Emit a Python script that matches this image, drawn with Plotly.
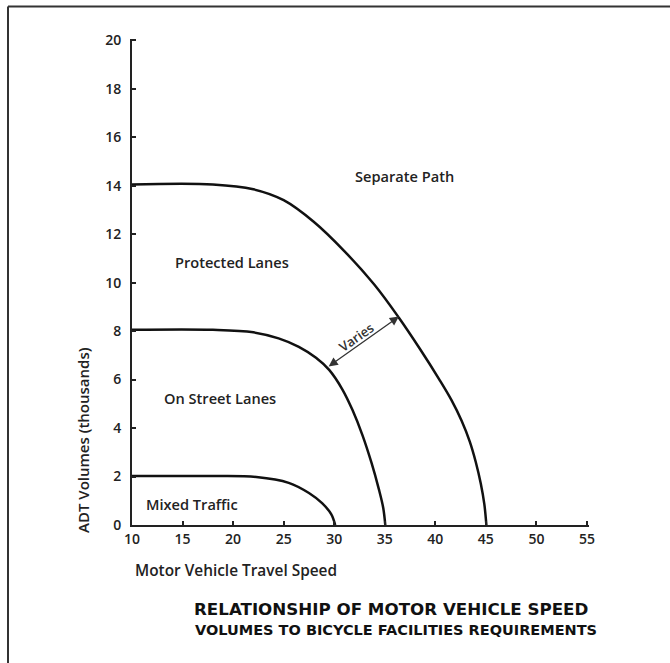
import plotly.graph_objects as go

# ---- data ----
speed_ticks = [10, 15, 20, 25, 30, 35, 40, 45, 50, 55]
adt_ticks = [0, 2, 4, 6, 8, 10, 12, 14, 16, 18, 20]

mixed_speed = [10, 18, 22.3, 25.5, 27.5, 28.8, 29.7, 30.1]
mixed_adt = [2.02, 2.02, 1.98, 1.74, 1.32, 0.9, 0.45, 0]

street_speed = [10, 18, 22, 24.5, 26.5, 28.2, 29.5, 30.8, 31.8, 32.8, 33.7, 34.4, 34.85, 35.05]
street_adt = [8.05, 8.05, 7.95, 7.7, 7.35, 6.9, 6.4, 5.6, 4.75, 3.7, 2.55, 1.5, 0.7, 0]

protected_speed = [10, 18, 22, 25, 28, 31, 34, 36.4, 38.5, 40.4, 41.6, 42.6, 43.4, 44.0, 44.5, 44.85, 45.05]
protected_adt = [14.05, 14.05, 13.85, 13.4, 12.5, 11.3, 9.9, 8.55, 7.25, 6.0, 5.15, 4.3, 3.45, 2.6, 1.7, 0.85, 0]

region_labels = ["Separate Path", "Protected Lanes", "On Street Lanes", "Mixed Traffic"]
region_x = [37.0, 19.9, 18.7, 15.9]
region_y = [14.4, 10.85, 5.25, 0.85]

varies_from = (29.3, 6.5)
varies_to = (36.4, 8.6)

FONT = "Open Sans"
TXT = "#222222"

fig = go.Figure()
for xs, ys in [(mixed_speed, mixed_adt), (street_speed, street_adt), (protected_speed, protected_adt)]:
    fig.add_trace(go.Scatter(x=xs, y=ys, mode="lines",
                             line=dict(color="#111111", width=2.5, shape="spline", smoothing=1.0),
                             showlegend=False, hoverinfo="skip"))

for t, x, y in zip(region_labels, region_x, region_y):
    fig.add_annotation(x=x, y=y, text=t, showarrow=False,
                       font=dict(family=FONT, size=14.6, color=TXT, weight=600))

# double-headed "Varies" arrow
fig.add_annotation(x=varies_to[0], y=varies_to[1], ax=varies_from[0], ay=varies_from[1],
                   xref="x", yref="y", axref="x", ayref="y", text="",
                   showarrow=True, arrowside="end+start", arrowhead=2, startarrowhead=2,
                   arrowsize=1.4, startarrowsize=1.4, arrowwidth=1.3, arrowcolor="#333333")
fig.add_annotation(x=32.2, y=7.75, text="Varies", showarrow=False, textangle=-35,
                   font=dict(family=FONT, size=13, color="#333333", weight=600))

# layout geometry (page pixels)
W, L, R = 670, 132, 81
T, B, H = 39, 138, 663
pw = W - L - R
ph = H - T - B

def px(x):
    return (x - L) / pw

def py(y):
    return (H - B - y) / ph

fig.add_annotation(xref="paper", yref="paper", x=px(133), y=py(570), xanchor="left", yanchor="middle",
                   text="Motor Vehicle Travel Speed", showarrow=False,
                   font=dict(family=FONT, size=15.4, color=TXT, weight=600))
fig.add_annotation(xref="paper", yref="paper", x=px(83), y=py(440), textangle=-90,
                   xanchor="center", yanchor="middle",
                   text="ADT Volumes (thousands)", showarrow=False,
                   font=dict(family=FONT, size=15, color=TXT, weight=600))
fig.add_annotation(xref="paper", yref="paper", x=px(391), y=py(609), xanchor="center", yanchor="middle",
                   text="RELATIONSHIP OF MOTOR VEHICLE SPEED", showarrow=False,
                   font=dict(family="DejaVu Sans", size=16.7, color="#111111", weight="bold"))
fig.add_annotation(xref="paper", yref="paper", x=px(396), y=py(630), xanchor="center", yanchor="middle",
                   text="VOLUMES TO BICYCLE FACILITIES REQUIREMENTS", showarrow=False,
                   font=dict(family="DejaVu Sans", size=14.5, color="#111111", weight="bold"))

# frame (top and left edges)
fig.add_shape(type="line", xref="paper", yref="paper", x0=px(8), x1=px(672), y0=py(6.5), y1=py(6.5),
              line=dict(color="#333333", width=2))
fig.add_shape(type="line", xref="paper", yref="paper", x0=px(8), x1=px(8), y0=py(6.5), y1=py(665),
              line=dict(color="#333333", width=2))

axis_common = dict(showgrid=False, zeroline=False, showline=True, linecolor="#222222", linewidth=2,
                   ticks="inside", ticklen=4, tickwidth=1.5, tickcolor="#222222",
                   tickfont=dict(family=FONT, size=14, color=TXT, weight=600))
fig.update_xaxes(range=[10, 55.2], tickvals=speed_ticks, ticktext=[str(v) for v in speed_ticks],
                 **axis_common)
fig.update_yaxes(range=[0, 20.05], tickvals=adt_ticks, ticktext=[str(v) for v in adt_ticks],
                 ticklabelstandoff=6, **axis_common)

fig.update_layout(width=W, height=H, margin=dict(l=L, r=R, t=T, b=B),
                  plot_bgcolor="white", paper_bgcolor="white")

# remove the page's default 8px body margin so the figure sits at the window origin
fig.write_html("out.html", config={"displayModeBar": False},
               post_script="document.body.style.margin='0';")
